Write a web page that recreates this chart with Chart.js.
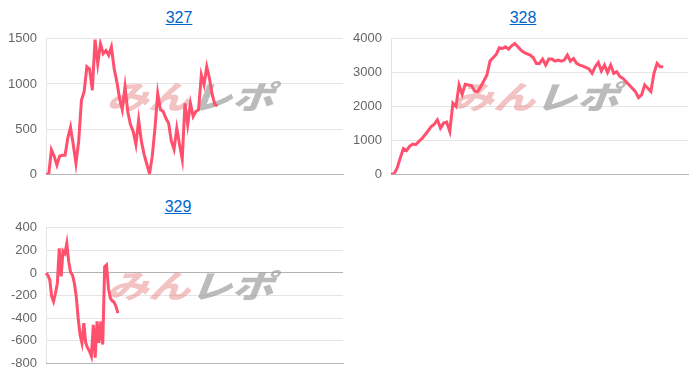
<!DOCTYPE html>
<html>
<head>
<meta charset="utf-8">
<script src="https://cdn.jsdelivr.net/npm/chart.js@4/dist/chart.umd.min.js"></script>
<style>
  html, body { margin: 0; padding: 0; background: #fff; }
  body { width: 700px; height: 382px; position: relative; overflow: hidden;
         font-family: "Liberation Sans", Arial, sans-serif; }
  .title { position: absolute; width: 120px; text-align: center; font-size: 16px; line-height: 20px; }
  .title a { color: #0066cc; text-decoration: underline; }
  .box { position: absolute; width: 345px; height: 169px; }
</style>
</head>
<body>
<div class="title" style="left:119px; top:8px;"><a href="#">327</a></div>
<div class="title" style="left:463px; top:8px;"><a href="#">328</a></div>
<div class="title" style="left:118px; top:197px;"><a href="#">329</a></div>
<div class="box" style="left:0; top:22px;"><canvas id="c327"></canvas></div>
<div class="box" style="left:345px; top:22px;"><canvas id="c328"></canvas></div>
<div class="box" style="left:0; top:211px;"><canvas id="c329"></canvas></div>
<script>
// 差枚数の推移（台番号ごと）
const slots327 = 110;
const slots328 = 97;
const slots329 = 158;

const diff327 = [0, 0, 270, 200, 100, 200, 210, 210, 400, 520, 330, 120, 366, 820, 915, 1190,
  1165, 930, 1490, 1225, 1445, 1335, 1370, 1317, 1410, 1170, 1025, 840, 715, 970, 695, 550,
  475, 330, 600, 366, 220, 110, 7, 200, 510, 895, 715, 695, 620, 565, 366, 275, 510, 330,
  165, 785, 550, 785, 640, 695, 715, 1100, 990, 1190, 1060, 880, 770, 760];

const diff328 = [0, 10, 186, 480, 755, 696, 823, 892, 872, 970, 1050, 1166, 1284, 1411, 1480,
  1607, 1362, 1509, 1540, 1264, 2097, 2000, 2636, 2362, 2656, 2636, 2617, 2460, 2440, 2587,
  2754, 2930, 3342, 3440, 3538, 3734, 3714, 3763, 3695, 3793, 3860, 3763, 3665, 3597, 3558,
  3518, 3440, 3273, 3273, 3400, 3224, 3400, 3400, 3342, 3371, 3342, 3371, 3518, 3342, 3420,
  3273, 3224, 3195, 3156, 3107, 2979, 3175, 3303, 3048, 3224, 3009, 3224, 2979, 3028, 2881,
  2832, 2734, 2636, 2538, 2440, 2264, 2342, 2636, 2538, 2440, 2979, 3273, 3175, 3175];

const diff329 = [0, -20, -62, -209, -253, -180, -91, 218, -30, 194, 173, 262, 100, 6, -20, -91,
  -209, -400, -547, -620, -444, -620, -665, -694, -738, -459, -750, -430, -620, -430, -635,
  56, 71, -135, -224, -247, -259, -297, -356];

const ticks327 = [0, 500, 1000, 1500];
const ticks328 = [0, 1000, 2000, 3000, 4000];
const ticks329 = [-800, -600, -400, -200, 0, 200, 400];

function gameLabels(n) {
  const out = [];
  for (let i = 1; i <= n; i++) out.push(i);
  return out;
}

// 背景のロゴ
const watermark = {
  id: 'watermark',
  beforeDatasetsDraw(chart) {
    const a = chart.chartArea;
    const ctx = chart.ctx;
    const cx = (a.left + a.right) / 2;
    const cy = (a.top + a.bottom) / 2 - 10;
    ctx.save();
    ctx.font = '900 40px "Noto Sans CJK JP"';
    ctx.textBaseline = 'middle';
    const w1 = ctx.measureText('みん').width;
    const w2 = ctx.measureText('レポ').width;
    const total = w1 + w2;
    ctx.translate(cx, cy);
    ctx.scale(167 / total, 0.8);
    ctx.transform(1, 0, -0.3, 1, 0, 0);
    ctx.fillStyle = 'rgba(228, 120, 120, 0.45)';
    ctx.fillText('みん', -total / 2, 0);
    ctx.fillStyle = 'rgba(150, 150, 150, 0.65)';
    ctx.fillText('レポ', -total / 2 + w1, 0);
    ctx.restore();
  }
};

function makeChart(id, labels, values, ticks) {
  const min = ticks[0];
  const max = ticks[ticks.length - 1];
  new Chart(document.getElementById(id), {
    type: 'line',
    data: {
      labels: labels,
      datasets: [{
        data: values,
        borderColor: 'rgb(255, 80, 110)',
        borderWidth: 3,
        pointRadius: 0,
        tension: 0,
        fill: false
      }]
    },
    options: {
      responsive: true,
      maintainAspectRatio: false,
      animation: false,
      layout: { padding: { left: 0, right: 2, top: 0, bottom: 0 } },
      plugins: { legend: { display: false }, tooltip: { enabled: false } },
      scales: {
        x: {
          ticks: { display: false },
          grid: { display: false, drawTicks: false },
          border: { color: '#b8b8b8', width: 1 }
        },
        y: {
          min: min,
          max: max,
          afterBuildTicks: (scale) => { scale.ticks = ticks.map(v => ({ value: v })); },
          afterFit: (scale) => { scale.width = 46; },
          ticks: {
            color: '#666',
            font: { size: 13, family: '"Liberation Sans", Arial' },
            padding: 9,
            callback: (v) => String(v)
          },
          grid: {
            drawTicks: false,
            color: (c) => c.tick && c.tick.value === 0 && min < 0 ? 'rgba(0,0,0,0.3)' : 'rgba(0,0,0,0.1)'
          },
          border: { color: 'rgba(0,0,0,0.1)' }
        }
      }
    },
    plugins: [watermark]
  });
}

makeChart('c327', gameLabels(slots327), diff327, ticks327);
makeChart('c328', gameLabels(slots328), diff328, ticks328);
makeChart('c329', gameLabels(slots329), diff329, ticks329);
</script>
</body>
</html>
